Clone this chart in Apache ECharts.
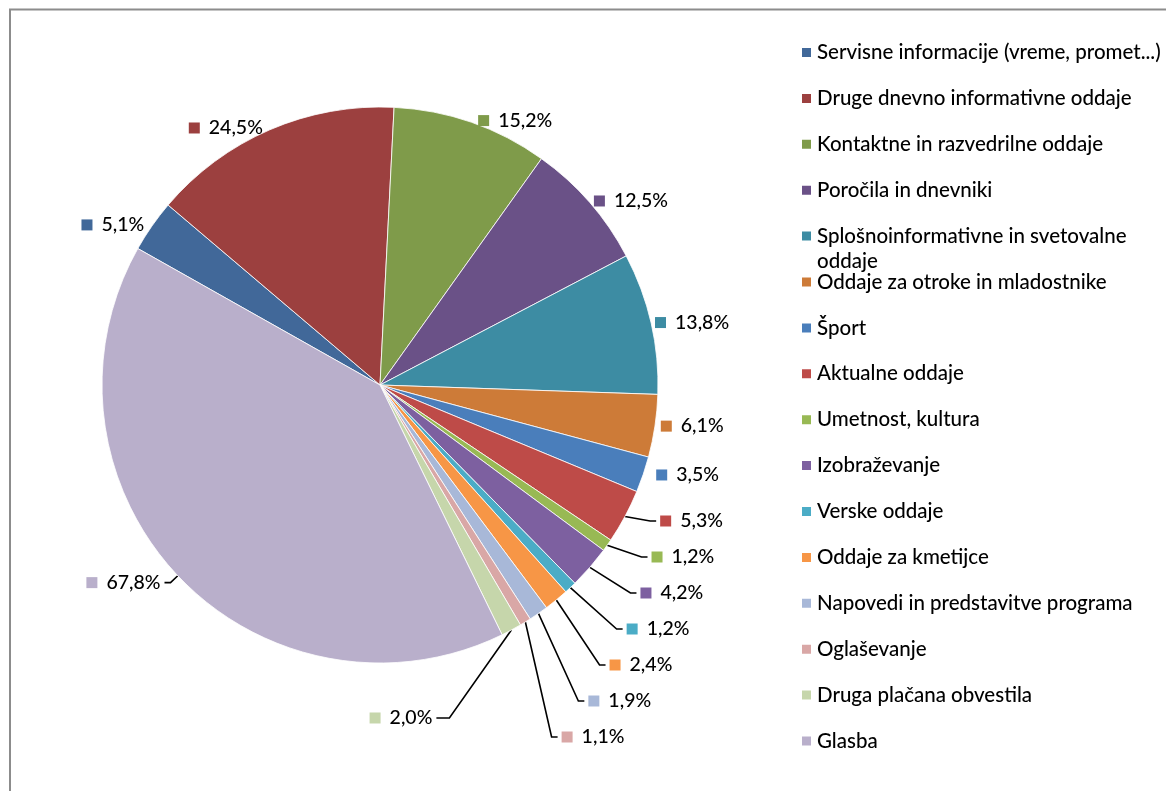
<!DOCTYPE html>
<html>
<head>
<meta charset="utf-8">
<script src="https://cdn.jsdelivr.net/npm/echarts@6/dist/echarts.min.js"></script>
<style>
  html, body { margin: 0; padding: 0; background: #fff; }
  #chart { width: 1166px; height: 791px; }
</style>
</head>
<body>
<div id="chart"></div>
<script>
const CATEGORIES = [
  'Servisne informacije (vreme, promet...)',
  'Druge dnevno informativne oddaje',
  'Kontaktne in razvedrilne oddaje',
  'Poročila in dnevniki',
  'Splošnoinformativne in svetovalne oddaje',
  'Oddaje za otroke in mladostnike',
  'Šport',
  'Aktualne oddaje',
  'Umetnost, kultura',
  'Izobraževanje',
  'Verske oddaje',
  'Oddaje za kmetijce',
  'Napovedi in predstavitve programa',
  'Oglaševanje',
  'Druga plačana obvestila',
  'Glasba'
]
const VALUES = [5.1, 24.5, 15.2, 12.5, 13.8, 6.1, 3.5, 5.3, 1.2, 4.2, 1.2, 2.4, 1.9, 1.1, 2.0, 67.8]
const COLORS = ['#416899', '#9c403f', '#7f9b4a', '#6a5187', '#3d8ca3', '#cd7b38', '#4a7ebb', '#be4b48',
  '#98b954', '#7d60a0', '#4bacc6', '#f79646', '#a8b8d8', '#d9a7a6', '#c6d6ab', '#b9afcb']
// slices from this index on get Excel-style leader lines
const LEADER_FROM = 7
// this label sits on the left of its leader line, like Excel put it
const FLIP_LABEL = 14
// legend entry whose text wraps onto a second line (gets its own legend block)
const WRAP_ITEM = 4
const FONT = 'Lato, "Open Sans", sans-serif'

const fmt = v => v.toFixed(1).replace('.', ',') + '%'

const rich = { v: { fontFamily: FONT, fontSize: 19.5, fontWeight: 500, color: '#000', padding: [0, 0, 0, 9] } }
COLORS.forEach((c, i) => { rich['s' + i] = { width: 11, height: 11, backgroundColor: c } })

const data = CATEGORIES.map((name, i) => {
  const lead = i >= LEADER_FROM
  return {
    name, value: VALUES[i],
    labelLine: lead ? { show: true, length: 10, length2: 6 } : { show: false, length: 2, length2: 2 },
  }
})

const legendBase = {
  orient: 'vertical', left: 800, padding: 0,
  icon: 'rect', itemWidth: 11, itemHeight: 11, itemGap: 20.9,
  selectedMode: false,
  textStyle: { fontFamily: FONT, fontSize: 20.5, fontWeight: 500, color: '#000', width: 352, overflow: 'break',
    lineHeight: 25 },
  // blank first line keeps the wrapped entry's first line level with its key
  formatter: name => name === CATEGORIES[WRAP_ITEM] ? '\n' + name : name,
}

const chart = echarts.init(document.getElementById('chart'))
chart.setOption({
  animation: false,
  color: COLORS,
  graphic: [{
    type: 'rect', shape: { x: 10, y: 9.5, width: 1200, height: 800 },
    style: { fill: 'none', stroke: '#8c8c8c', lineWidth: 2 }, silent: true,
  }],
  legend: [
    Object.assign({}, legendBase, { top: 40, data: CATEGORIES.slice(0, WRAP_ITEM) }),
    Object.assign({}, legendBase, { top: 198.4, data: [CATEGORIES[WRAP_ITEM]] }),
    Object.assign({}, legendBase, { top: 269.5, data: CATEGORIES.slice(WRAP_ITEM + 1) }),
  ],
  series: [{
    type: 'pie',
    center: [380, 385], radius: 278,
    startAngle: 150.6, clockwise: true,
    avoidLabelOverlap: true,
    itemStyle: { borderColor: '#fff', borderWidth: 0.8 },
    label: {
      position: 'outside', distanceToLabelLine: 4, lineHeight: 34,
      formatter: p => `{s${p.dataIndex}|}{v|${fmt(p.value)}}`,
      rich,
    },
    labelLine: { lineStyle: { color: '#000', width: 1.6 } },
    labelLayout: p => {
      if (p.dataIndex !== FLIP_LABEL || !p.labelLinePoints) return {}
      const [x0, y0] = p.labelLinePoints[0]
      const bend = [x0 - 62, y0 + 88]
      const end = [bend[0] - 13, bend[1]]
      return { x: end[0] - 4, y: end[1], align: 'right', verticalAlign: 'middle',
        labelLinePoints: [[x0, y0], bend, end] }
    },
    emphasis: { disabled: true },
    data,
  }],
})
</script>
</body>
</html>
